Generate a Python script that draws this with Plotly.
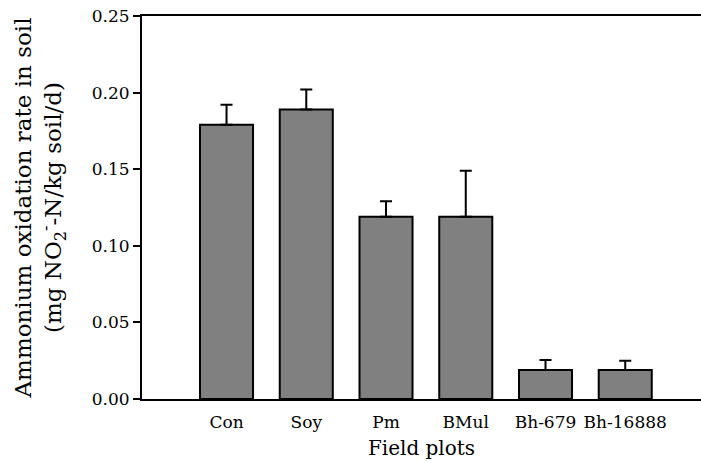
import plotly.graph_objects as go

categories = ["Con", "Soy", "Pm", "BMul", "Bh-679", "Bh-16888"]
rates = [0.179, 0.189, 0.119, 0.119, 0.019, 0.019]
errors = [0.013, 0.013, 0.010, 0.030, 0.0065, 0.006]
y_ticks = [0.00, 0.05, 0.10, 0.15, 0.20, 0.25]
y_tick_labels = ["0.00", "0.05", "0.10", "0.15", "0.20", "0.25"]

positions = list(range(len(categories)))
FONT = "DejaVu Serif"

fig = go.Figure()
fig.add_trace(go.Bar(
    x=positions,
    y=rates,
    width=0.665,
    marker=dict(color="#808080", line=dict(color="black", width=2)),
    error_y=dict(type="data", array=errors, arrayminus=[0] * len(errors),
                 symmetric=False, color="black", thickness=2, width=6),
))

fig.update_layout(
    width=701, height=461,
    margin=dict(l=142, r=0, t=16, b=62),
    paper_bgcolor="white", plot_bgcolor="white",
    showlegend=False,
    font=dict(family=FONT, size=17, color="black"),
    xaxis=dict(
        range=[-1.06, 5.95],
        tickvals=positions, ticktext=categories,
        showline=True, mirror=True, linecolor="black", linewidth=2,
        ticks="", showgrid=False, zeroline=False,
        ticklabelstandoff=7,
        tickfont=dict(family=FONT, size=17),
        title=dict(text="Field plots", font=dict(family=FONT, size=20), standoff=10),
    ),
    yaxis=dict(
        range=[0, 0.25],
        tickvals=y_ticks, ticktext=y_tick_labels,
        showline=True, mirror=False, linecolor="black", linewidth=2,
        ticks="outside", ticklen=7, tickwidth=2, tickcolor="black",
        showgrid=False, zeroline=False,
        tickfont=dict(family=FONT, size=17),
        title=dict(text="Ammonium oxidation rate in soil<br>(mg NO<sub>2</sub><sup>-</sup>-N/kg soil/d)",
                   font=dict(family=FONT, size=23), standoff=24),
    ),
)

fig.write_html("out.html", config={"displayModeBar": False},
               post_script="document.body.style.margin='0';")
